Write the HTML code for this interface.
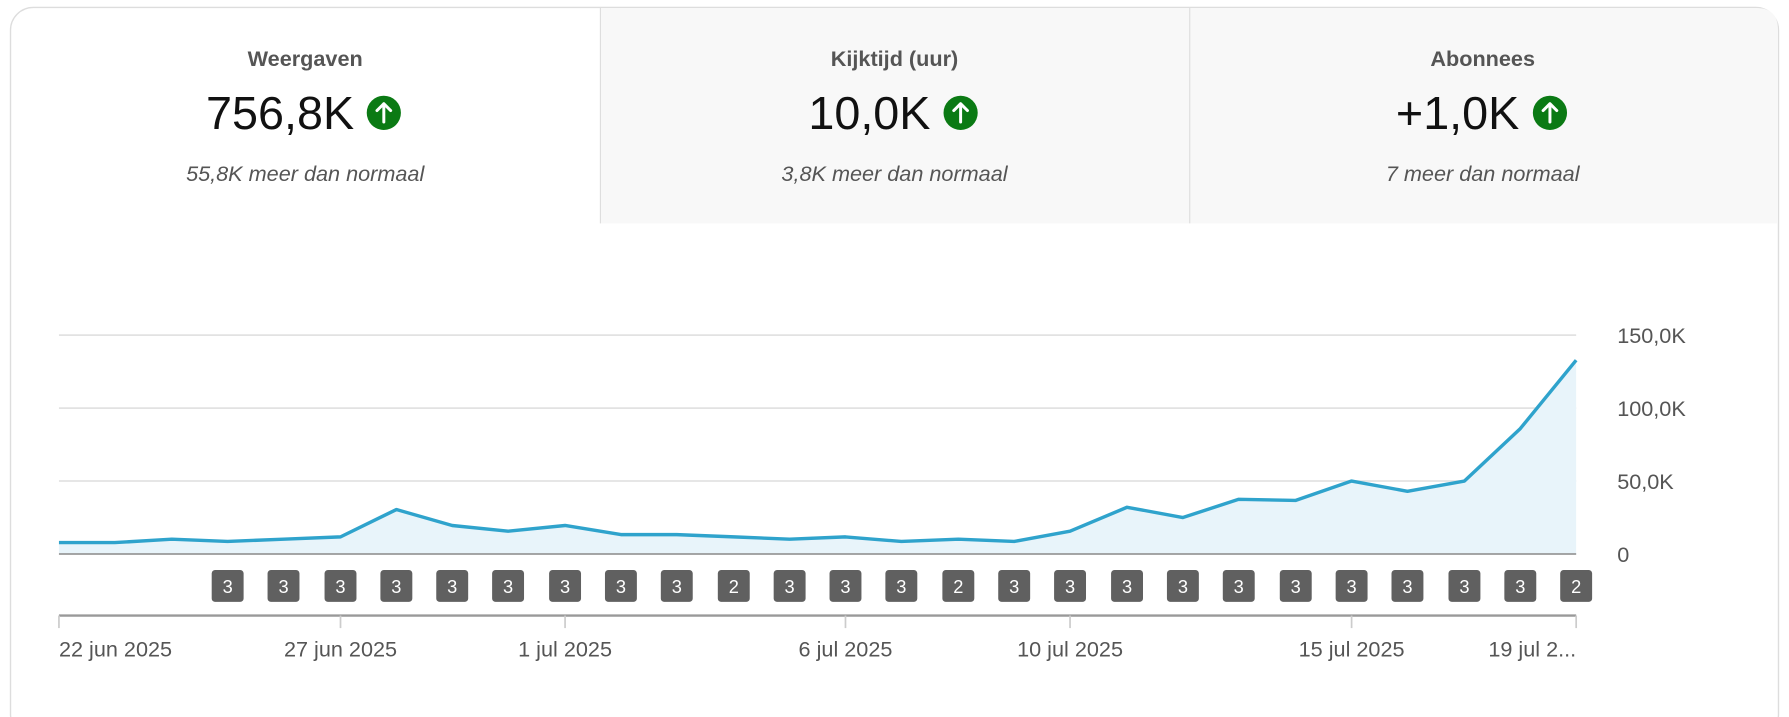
<!DOCTYPE html>
<html><head><meta charset="utf-8"><style>
html,body{margin:0;padding:0;background:#fff;width:1789px;height:717px;overflow:hidden}
svg{display:block;font-family:"Liberation Sans",Roboto,sans-serif}
</style></head><body>
<svg width="1789" height="717" viewBox="0 0 1568 629" xmlns="http://www.w3.org/2000/svg">
<rect x="8.5" y="6.5" width="1551" height="640" rx="20" fill="#fff" stroke="#ddd" stroke-width="1.2"/>
<path d="M526 7 H1540 Q1559 7 1559 26 V196 H526 Z" fill="#f8f8f8"/>
<line x1="526" y1="7" x2="526" y2="196" stroke="#ddd"/>
<line x1="1043" y1="7" x2="1043" y2="196" stroke="#ddd"/>
<g text-anchor="middle">
<text x="267" y="58" font-size="19" font-weight="bold" fill="#555">Weergaven</text>
<text x="784" y="58" font-size="19" font-weight="bold" fill="#555">Kijktijd (uur)</text>
<text x="1300" y="58" font-size="19" font-weight="bold" fill="#555">Abonnees</text>
<text x="245" y="113" font-size="41" fill="#111">756,8K</text>
<text x="762" y="113" font-size="41" fill="#111">10,0K</text>
<text x="1278" y="113" font-size="41" fill="#111">+1,0K</text>
<text x="267" y="159" font-size="19" font-style="italic" fill="#555">55,8K meer dan normaal</text>
<text x="784" y="159" font-size="19" font-style="italic" fill="#555">3,8K meer dan normaal</text>
<text x="1300" y="159" font-size="19" font-style="italic" fill="#555">7 meer dan normaal</text>
</g>
<g fill="#0b7a14"><circle cx="336" cy="99" r="15"/><circle cx="842" cy="99" r="15"/><circle cx="1359" cy="99" r="15"/></g>
<g stroke="#fff" stroke-width="2.6" fill="none" stroke-linecap="round" stroke-linejoin="round">
<path d="M336 107V91M330 97L336 91L342 97"/><path d="M842 107V91M836 97L842 91L848 97"/><path d="M1359 107V91M1353 97L1359 91L1365 97"/>
</g>
<g stroke="#e2e2e2" stroke-width="1.5"><line x1="51" y1="294" x2="1382" y2="294"/><line x1="51" y1="358" x2="1382" y2="358"/><line x1="51" y1="422" x2="1382" y2="422"/></g>
<path d="M51 486 L51 476 L100 476 L150 473 L199 475 L248 473 L298 471 L347 447 L396 461 L445 466 L495 461 L544 469 L593 469 L643 471 L692 473 L741 471 L790 475 L840 473 L889 475 L938 466 L988 445 L1037 454 L1086 438 L1136 439 L1185 422 L1234 431 L1284 422 L1333 376 L1382 316 L1382 486 Z" fill="#e8f4fa"/>
<polyline points="51,476 100,476 150,473 199,475 248,473 298,471 347,447 396,461 445,466 495,461 544,469 593,469 643,471 692,473 741,471 790,475 840,473 889,475 938,466 988,445 1037,454 1086,438 1136,439 1185,422 1234,431 1284,422 1333,376 1382,316" fill="none" stroke="#2fa3cc" stroke-width="3" stroke-linejoin="round"/>
<line x1="51" y1="486" x2="1382" y2="486" stroke="#999" stroke-width="1.5"/>
<g font-size="19" fill="#555"><text x="1418" y="301">150,0K</text><text x="1418" y="365">100,0K</text><text x="1418" y="429">50,0K</text><text x="1418" y="493">0</text></g>
<g fill="#606060">
<rect x="185" y="500" width="28" height="28" rx="3"/><rect x="234" y="500" width="28" height="28" rx="3"/><rect x="284" y="500" width="28" height="28" rx="3"/><rect x="333" y="500" width="28" height="28" rx="3"/><rect x="382" y="500" width="28" height="28" rx="3"/><rect x="431" y="500" width="28" height="28" rx="3"/><rect x="481" y="500" width="28" height="28" rx="3"/><rect x="530" y="500" width="28" height="28" rx="3"/><rect x="579" y="500" width="28" height="28" rx="3"/><rect x="629" y="500" width="28" height="28" rx="3"/><rect x="678" y="500" width="28" height="28" rx="3"/><rect x="727" y="500" width="28" height="28" rx="3"/><rect x="776" y="500" width="28" height="28" rx="3"/><rect x="826" y="500" width="28" height="28" rx="3"/><rect x="875" y="500" width="28" height="28" rx="3"/><rect x="924" y="500" width="28" height="28" rx="3"/><rect x="974" y="500" width="28" height="28" rx="3"/><rect x="1023" y="500" width="28" height="28" rx="3"/><rect x="1072" y="500" width="28" height="28" rx="3"/><rect x="1122" y="500" width="28" height="28" rx="3"/><rect x="1171" y="500" width="28" height="28" rx="3"/><rect x="1220" y="500" width="28" height="28" rx="3"/><rect x="1270" y="500" width="28" height="28" rx="3"/><rect x="1319" y="500" width="28" height="28" rx="3"/><rect x="1368" y="500" width="28" height="28" rx="3"/>
</g>
<g font-size="16" fill="#fff" text-anchor="middle">
<text x="199" y="520">3</text><text x="248" y="520">3</text><text x="298" y="520">3</text><text x="347" y="520">3</text><text x="396" y="520">3</text><text x="445" y="520">3</text><text x="495" y="520">3</text><text x="544" y="520">3</text><text x="593" y="520">3</text><text x="643" y="520">2</text><text x="692" y="520">3</text><text x="741" y="520">3</text><text x="790" y="520">3</text><text x="840" y="520">2</text><text x="889" y="520">3</text><text x="938" y="520">3</text><text x="988" y="520">3</text><text x="1037" y="520">3</text><text x="1086" y="520">3</text><text x="1136" y="520">3</text><text x="1185" y="520">3</text><text x="1234" y="520">3</text><text x="1284" y="520">3</text><text x="1333" y="520">3</text><text x="1382" y="520">2</text>
</g>
<line x1="51" y1="540" x2="1382" y2="540" stroke="#999" stroke-width="2"/>
<g stroke="#ccc" stroke-width="1.5"><line x1="51" y1="540" x2="51" y2="551"/><line x1="298" y1="540" x2="298" y2="551"/><line x1="495" y1="540" x2="495" y2="551"/><line x1="741" y1="540" x2="741" y2="551"/><line x1="938" y1="540" x2="938" y2="551"/><line x1="1185" y1="540" x2="1185" y2="551"/><line x1="1382" y1="540" x2="1382" y2="551"/></g>
<g font-size="19" fill="#555" text-anchor="middle">
<text x="51" y="576" text-anchor="start">22 jun 2025</text><text x="298" y="576">27 jun 2025</text><text x="495" y="576">1 jul 2025</text><text x="741" y="576">6 jul 2025</text><text x="938" y="576">10 jul 2025</text><text x="1185" y="576">15 jul 2025</text><text x="1382" y="576" text-anchor="end">19 jul 2...</text>
</g>
</svg>
</body></html>
